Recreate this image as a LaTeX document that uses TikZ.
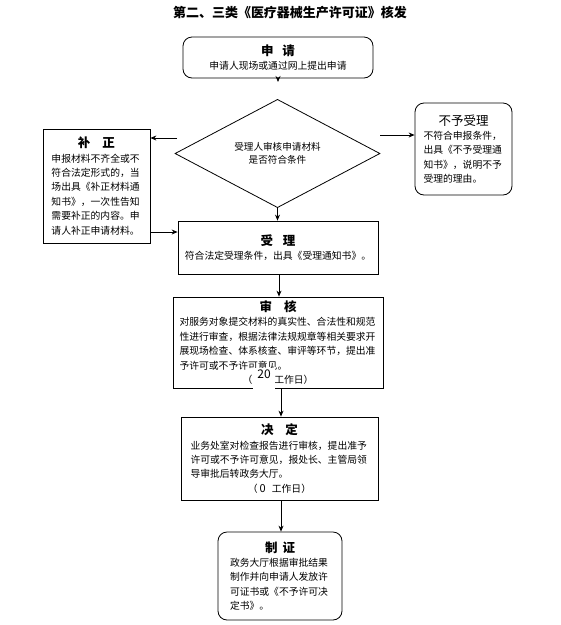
\documentclass[tikz,border=0pt]{standalone}
\usepackage{fontspec}
\setmainfont{Noto Sans CJK SC}
\usetikzlibrary{arrows.meta,positioning,shapes.geometric,calc}

\newcommand{\boxhead}[1]{{\fontsize{12.5}{14}\selectfont\bfseries #1}}

\begin{document}
\begin{tikzpicture}[x=1pt, y=-1pt,
    stepbox/.style={rectangle, draw, line width=0.8pt, inner sep=0pt,
                    font=\fontsize{9.8}{14.4}\selectfont},
    roundbox/.style={stepbox, rounded corners=9pt},
    judgebox/.style={diamond, draw, line width=0.8pt, inner sep=0pt,
                     font=\fontsize{9.6}{13}\selectfont, align=center},
    daymask/.style={fill=white, minimum width=22, inner sep=1pt,
                    text height=9pt, text depth=13pt, font=\fontsize{12}{12}\selectfont},
    arrow/.style={-{Stealth[length=6pt, width=5pt]}, line width=0.8pt},
    headline/.style={font=\fontsize{13}{15}\selectfont\bfseries}
]
    \useasboundingbox (0,0) rectangle (561,625);

    % Title
    \node[headline] (head) at (290,13) {第二、三类《医疗器械生产许可证》核发};

    % Application
    \node[roundbox, minimum width=190, minimum height=41, align=center] (apply) at (278,57.5)
        {\boxhead{申\hspace{9pt}请}\\申请人现场或通过网上提出申请};

    % Check of the application
    \node[judgebox, minimum width=205, minimum height=67] (judge) at (277.5,153.5)
        {受理人审核申请材料\\是否符合条件};

    % Correction
    \node[stepbox, minimum width=107, minimum height=114, text width=90, align=left] (amend) at (96.5,186)
        {\makebox[\linewidth]{\boxhead{补\hspace{12pt}正}}\\
         申报材料不齐全或不\\符合法定形式的，当\\场出具《补正材料通\\知书》，一次性告知\\需要补正的内容。申\\请人补正申请材料。};

    % Refusal
    \node[roundbox, minimum width=97, minimum height=92, text width=80, align=left] (refuse) at (463.5,149)
        {\makebox[\linewidth]{\fontsize{12.5}{14}\selectfont 不予受理}\\
         不符合申报条件，\\出具《不予受理通\\知书》，说明不予\\受理的理由。};

    % Acceptance
    \node[stepbox, minimum width=200, minimum height=53, align=center] (accept) at (278,247.5)
        {\boxhead{受\hspace{10pt}理}\\符合法定受理条件，出具《受理通知书》。};

    % Review
    \node[stepbox, minimum width=210, minimum height=91, text width=197, align=left] (review) at (278,342.5)
        {\makebox[\linewidth]{\boxhead{审\hspace{12pt}核}}\\
         对服务对象提交材料的真实性、合法性和规范\\性进行审查，根据法律法规规章等相关要求开\\展现场检查、体系核查、审评等环节，提出准\\予许可或不予许可意见。\\
         \makebox[\linewidth]{（\hspace{22pt}工作日）}};
    \node[daymask] (days) at (264,380) {20};

    % Decision
    \node[stepbox, minimum width=197, minimum height=83, text width=178, align=left] (decide) at (279.5,458.5)
        {\makebox[\linewidth]{\boxhead{决\hspace{12pt}定}}\\
         业务处室对检查报告进行审核，提出准予\\许可或不予许可意见，报处长、主管局领\\导审批后转政务大厅。\\
         \makebox[\linewidth]{（\hspace{2pt}{\fontsize{11}{11}\selectfont 0}\hspace{6pt}工作日）}};

    % Certificate
    \node[roundbox, minimum width=124, minimum height=88, text width=100, align=left] (issue) at (280,576)
        {\makebox[\linewidth]{\boxhead{制\hspace{5pt}证}}\\
         政务大厅根据审批结果\\制作并向申请人发放许\\可证书或《不予许可决\\定书》。};

    % Arrows
    \coordinate (jl) at (177,138);
    \coordinate (jr) at (380,135);
    \draw[arrow, shorten >=17pt] (apply.south) -- (apply.south |- judge.north);
    \draw[arrow] (jl) -- (jl -| amend.east);
    \draw[arrow] (jr) -- (jr -| refuse.west);
    \draw[arrow] (judge.south) -- (judge.south |- accept.north);
    \draw[arrow] (amend.east |- 0,232) -- (accept.west |- 0,232);
    \draw[arrow] (accept.south -| 279,0) -- (review.north -| 279,0);
    \draw[arrow] (review.south -| 281,0) -- (decide.north -| 281,0);
    \draw[arrow] (decide.south -| 281,0) -- (issue.north -| 281,0);
\end{tikzpicture}
\end{document}
